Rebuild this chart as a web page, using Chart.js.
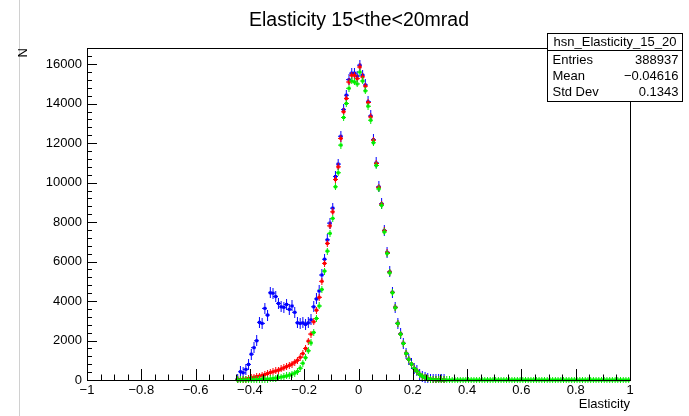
<!DOCTYPE html>
<html><head><meta charset="utf-8">
<script src="https://cdn.jsdelivr.net/npm/chart.js@4.4.1/dist/chart.umd.min.js"></script>
<style>html,body{margin:0;padding:0;background:#fff;overflow:hidden}canvas{display:block}</style>
</head><body>
<canvas id="c" width="689" height="416"></canvas>
<script>
// ---- data (histogram bins, width 0.01, first bin centre -0.445) ----
const firstBinCenter = -0.445;
const binWidth = 0.01;
const blueCounts = [
  50, 420, 370, 540, 790, 1310, 1640, 1990, 2920, 2870,
  3630, 3290, 4420, 4400, 4230, 3880, 3710, 3680, 3830, 3580,
  3750, 3430, 2900, 2870, 2900, 2820, 2900, 3050, 3710, 4110,
  4510, 5320, 6120, 7100, 7950, 8710, 10310, 10940, 12350, 13700,
  14430, 15220, 15550, 15550, 15400, 15950, 15450, 14950, 14100, 13380,
  12180, 11000, 9790, 8930, 7580, 6470, 5480, 4450, 3690, 2880,
  2340, 1865, 1355, 1055, 812, 592, 456, 291, 190, 120,
  70, 40, 25, 15, 8, 5, 3
];
const redCounts = [
  15, 30, 40, 50, 80, 120, 150, 175, 200, 240,
  280, 330, 380, 420, 460, 500, 560, 620, 680, 740,
  810, 900, 1000, 1150, 1340, 1600, 1970, 2330, 2950, 3540,
  4190, 5000, 5910, 6920, 7810, 8520, 10160, 10800, 12240, 13590,
  14260, 15100, 15440, 15440, 15270, 15860, 15360, 14890, 14060, 13330,
  12150, 10970, 9760, 8910, 7560, 6450, 5470, 4440, 3680, 2870,
  2330, 1860, 1350, 1050, 810, 590, 455, 290, 190, 120,
  70, 40, 25, 15, 8, 5, 3
];
const greenCounts = [
  2, 3, 5, 7, 9, 12, 16, 20, 26, 32,
  40, 50, 60, 80, 100, 125, 150, 175, 205, 245,
  295, 350, 430, 600, 850, 1130, 1480, 1880, 2410, 3120,
  3750, 4590, 5520, 6530, 7430, 8190, 9790, 10500, 11900, 13300,
  14010, 14780, 15150, 15100, 15000, 15600, 15150, 14650, 13870, 13160,
  12020, 10870, 9680, 8850, 7500, 6410, 5430, 4420, 3660, 2860,
  2320, 1850, 1345, 1045, 805, 585, 450, 285, 185, 118,
  68, 40, 25, 15, 8, 5, 3, 2, 1, 0,
  0, 0, 0, 0, 0, 0, 0, 0, 0, 0,
  0, 0, 0, 0, 0, 0, 0, 0, 0, 0,
  0, 0, 0, 0, 0, 0, 0, 0, 0, 0,
  0, 0, 0, 0, 0, 0, 0, 0, 0, 0,
  0, 0, 0, 0, 0, 0, 0, 0, 0, 0,
  0, 0, 0, 0, 0, 0, 0, 0, 0, 0,
  0, 0, 0, 0, 0
];
const xTickValues = [-1, -0.8, -0.6, -0.4, -0.2, 0, 0.2, 0.4, 0.6, 0.8, 1];
const xTickLabels = ['\u22121', '\u22120.8', '\u22120.6', '\u22120.4', '\u22120.2', '0', '0.2', '0.4', '0.6', '0.8', '1'];
const yTickValues = [0, 2000, 4000, 6000, 8000, 10000, 12000, 14000, 16000];
const yTickLabels = ['0', '2000', '4000', '6000', '8000', '10000', '12000', '14000', '16000'];
const titleText = 'Elasticity 15<the<20mrad';
const xTitle = 'Elasticity';
const yTitle = 'N';
const statsName = 'hsn_Elasticity_15_20';
const statsLabels = ['Entries', 'Mean', 'Std Dev'];
const statsValues = ['388937', '\u22120.04616', '0.1343'];

// ---- helpers ----
const FONT = '"Liberation Sans", Arial, Helvetica, sans-serif';
function toPoints(arr) {
  return arr.map((v, i) => ({x: firstBinCenter + i * binWidth, y: v}));
}
function marker(color, half) {
  const c = document.createElement('canvas');
  c.width = 5; c.height = 2 * half + 1;
  const g = c.getContext('2d');
  g.fillStyle = color;
  g.fillRect(2, 0, 1, 2 * half + 1);
  g.fillRect(0, half, 5, 1);
  g.fillRect(1, half - 1, 3, 3);
  return c;
}

const decor = {
  id: 'decor',
  beforeDraw(chart) {
    const ctx = chart.ctx;
    ctx.save();
    ctx.fillStyle = '#fff';
    ctx.fillRect(0, 0, chart.width, chart.height);
    ctx.strokeStyle = '#d0d0d0';
    ctx.lineWidth = 1;
    ctx.beginPath(); ctx.moveTo(19.5, 0); ctx.lineTo(19.5, chart.height); ctx.stroke();
    ctx.restore();
  },
  afterDatasetsDraw(chart) {
    const ctx = chart.ctx;
    const a = chart.chartArea;
    const xs = chart.scales.x, ys = chart.scales.y;
    ctx.save();
    ctx.strokeStyle = '#000';
    ctx.lineWidth = 1;
    ctx.strokeRect(Math.round(a.left) + 0.5, Math.round(a.top) + 0.5,
      Math.round(a.right - a.left), Math.round(a.bottom - a.top));
    ctx.beginPath();
    for (let k = 0; k * 400 <= ys.max; k++) {
      const py = Math.round(ys.getPixelForValue(k * 400)) + 0.5;
      const len = (k % 5 === 0) ? 10 : 5;
      ctx.moveTo(a.left, py); ctx.lineTo(a.left + len, py);
    }
    for (let k = 0; k <= 40; k++) {
      const px = Math.round(xs.getPixelForValue(-1 + k * 0.05)) + 0.5;
      const len = (k % 4 === 0) ? 11 : 5.5;
      ctx.moveTo(px, a.bottom); ctx.lineTo(px, a.bottom - len);
    }
    ctx.stroke();
    ctx.restore();
  },
  afterDraw(chart) {
    const ctx = chart.ctx;
    ctx.save();
    ctx.fillStyle = '#000';
    ctx.font = '19.5px ' + FONT;
    ctx.textAlign = 'center';
    ctx.textBaseline = 'middle';
    ctx.fillText(titleText, 359, 21);
    const bx = 547.5, by = 33.5, bw = 135, bh = 68;
    ctx.fillStyle = '#fff';
    ctx.fillRect(bx, by, bw, bh);
    ctx.strokeStyle = '#000';
    ctx.lineWidth = 1;
    ctx.strokeRect(bx, by, bw, bh);
    ctx.beginPath(); ctx.moveTo(bx, 50.5); ctx.lineTo(bx + bw, 50.5); ctx.stroke();
    ctx.fillStyle = '#000';
    ctx.font = '13px ' + FONT;
    ctx.textAlign = 'center';
    ctx.fillText(statsName, bx + bw / 2, 42.5);
    const rows = [60.5, 76.5, 92];
    statsLabels.forEach((lab, i) => {
      ctx.textAlign = 'left';
      ctx.fillText(lab, 552.5, rows[i]);
      ctx.textAlign = 'right';
      ctx.fillText(statsValues[i], 678.5, rows[i]);
    });
    ctx.restore();
  }
};

new Chart(document.getElementById('c').getContext('2d'), {
  type: 'scatter',
  data: {
    datasets: [
      {label: 'green', data: toPoints(greenCounts), pointStyle: marker('#00ee00', 3), pointRadius: 3, showLine: false, clip: 3},
      {label: 'red', data: toPoints(redCounts), pointStyle: marker('#ff0000', 3), pointRadius: 3, showLine: false, clip: 3},
      {label: 'blue', data: toPoints(blueCounts), pointStyle: marker('#0000ff', 5), pointRadius: 3, showLine: false, clip: 3}
    ]
  },
  options: {
    responsive: false,
    animation: false,
    devicePixelRatio: 1,
    events: [],
    layout: {padding: {top: 48, right: 59, left: 0, bottom: 0}},
    plugins: {legend: {display: false}, tooltip: {enabled: false}, title: {display: false}},
    scales: {
      x: {
        type: 'linear', min: -1, max: 1,
        afterFit(s) { s.height = 36; },
        afterBuildTicks(s) { s.ticks = xTickValues.map(v => ({value: v})); },
        grid: {display: false, drawTicks: false},
        border: {display: false},
        ticks: {autoSkip: false, maxRotation: 0, padding: 3, color: '#000',
                font: {family: FONT, size: 13},
                callback: (v) => { const i = xTickValues.findIndex(t => Math.abs(t - v) < 1e-9); return i >= 0 ? xTickLabels[i] : ''; }},
        title: {display: true, text: xTitle, align: 'end', color: '#000',
                font: {family: FONT, size: 13}, padding: {top: 0, bottom: 4}}
      },
      y: {
        type: 'linear', min: 0, max: 16820,
        afterFit(s) { s.width = 87; },
        afterBuildTicks(s) { s.ticks = yTickValues.map(v => ({value: v})); },
        grid: {display: false, drawTicks: false},
        border: {display: false},
        ticks: {padding: 5, color: '#000', font: {family: FONT, size: 13},
                callback: (v) => { const i = yTickValues.indexOf(v); return i >= 0 ? yTickLabels[i] : ''; }},
        title: {display: true, text: yTitle, align: 'end', color: '#000',
                font: {family: FONT, size: 13}, padding: {top: 16, bottom: 0}}
      }
    }
  },
  plugins: [decor]
});
</script>
</body></html>
